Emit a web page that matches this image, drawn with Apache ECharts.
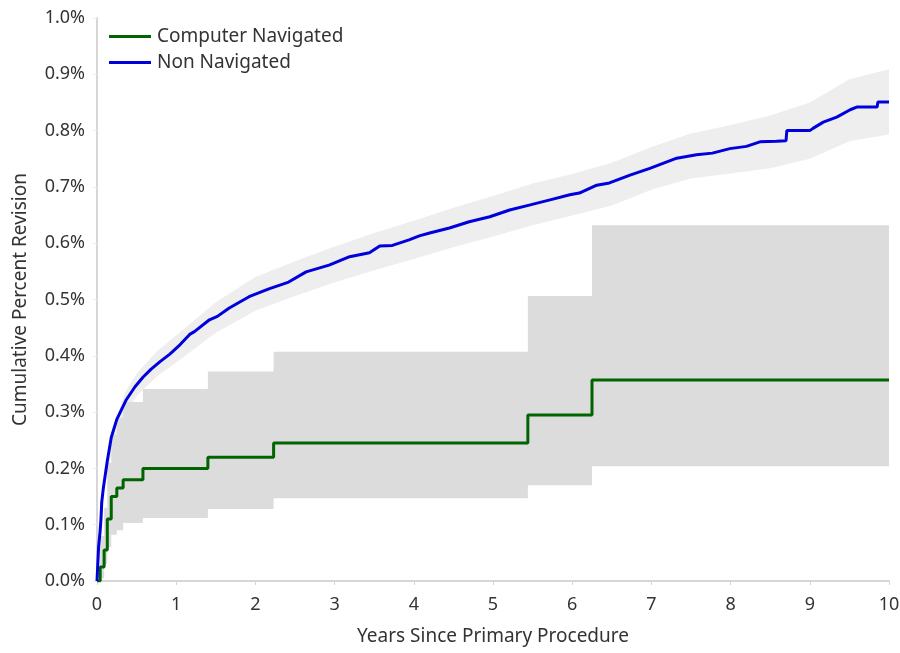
<!DOCTYPE html>
<html>
<head>
<meta charset="utf-8">
<script src="https://cdn.jsdelivr.net/npm/echarts@6/dist/echarts.min.js"></script>
<style>
  html, body { margin: 0; padding: 0; background: #fff; }
  #chart { width: 900px; height: 653px; }
</style>
</head>
<body>
<div id="chart"></div>
<script>
// Kaplan-Meier style cumulative revision curves (percent) by years since primary procedure

// Computer Navigated: step estimate and its confidence limits (each value holds from its time on)
const navTimes  = [0, 0.04, 0.09, 0.13, 0.18, 0.25, 0.33, 0.58, 1.40, 2.23, 5.44, 6.25];
const navValues = [0, 0.025, 0.055, 0.11, 0.15, 0.165, 0.18, 0.20, 0.22, 0.245, 0.295, 0.357];
const navUpper  = [0, 0.08, 0.13, 0.21, 0.26, 0.29, 0.318, 0.341, 0.372, 0.407, 0.506, 0.632];
const navLower  = [0, 0.005, 0.03, 0.06, 0.082, 0.09, 0.103, 0.112, 0.128, 0.147, 0.170, 0.204];
const followUpEnd = 10;

// Non Navigated estimate
const nonTimes = [0, 0.02, 0.04, 0.05, 0.06, 0.08, 0.13, 0.18, 0.25, 0.37, 0.48, 0.58, 0.68, 0.80, 0.92,
  1.05, 1.17, 1.23, 1.42, 1.52, 1.67, 1.92, 2.17, 2.42, 2.64, 2.93, 3.19, 3.44, 3.57, 3.73, 3.94, 4.07,
  4.20, 4.45, 4.70, 4.96, 5.21, 5.47, 5.72, 5.97, 6.09, 6.31, 6.47, 6.73, 6.98, 7.32, 7.57, 7.77, 7.99,
  8.20, 8.37, 8.58, 8.70, 8.71, 9.00, 9.04, 9.17, 9.34, 9.51, 9.60, 9.85, 9.86, 10.0];
const nonValues = [0, 0.06, 0.09, 0.11, 0.14, 0.165, 0.213, 0.255, 0.287, 0.322, 0.345, 0.362, 0.376, 0.39, 0.403,
  0.42, 0.438, 0.443, 0.464, 0.47, 0.485, 0.505, 0.519, 0.531, 0.549, 0.561, 0.576, 0.583, 0.595, 0.596, 0.606, 0.613,
  0.618, 0.627, 0.638, 0.647, 0.659, 0.668, 0.677, 0.686, 0.689, 0.703, 0.707, 0.721, 0.733, 0.751, 0.757, 0.76, 0.768,
  0.772, 0.78, 0.781, 0.782, 0.80, 0.80, 0.804, 0.815, 0.824, 0.837, 0.842, 0.842, 0.851, 0.851];

// Non Navigated confidence limits
const nonBandTimes = [0, 0.05, 0.1, 0.2, 0.35, 0.5, 0.75, 1.0, 1.5, 2.0, 2.5, 3.0, 3.5, 4.0, 4.5, 5.0,
  5.5, 6.0, 6.5, 7.0, 7.5, 8.0, 8.5, 9.0, 9.5, 10.0];
const nonUpper = [0, 0.122, 0.205, 0.267, 0.334, 0.368, 0.407, 0.436, 0.495, 0.54, 0.568, 0.594, 0.618, 0.64,
  0.663, 0.684, 0.706, 0.723, 0.743, 0.771, 0.795, 0.81, 0.827, 0.85, 0.891, 0.909];
const nonLower = [0, 0.098, 0.175, 0.233, 0.298, 0.328, 0.363, 0.388, 0.441, 0.48, 0.506, 0.53, 0.552, 0.572,
  0.593, 0.612, 0.632, 0.649, 0.667, 0.695, 0.715, 0.724, 0.733, 0.75, 0.781, 0.793];

const xTickLabels = ['0', '1', '2', '3', '4', '5', '6', '7', '8', '9', '10'];
const yTickLabels = ['0.0%', '0.1%', '0.2%', '0.3%', '0.4%', '0.5%', '0.6%', '0.7%', '0.8%', '0.9%', '1.0%'];

const seriesNames = ['Computer Navigated', 'Non Navigated'];

// step-line points for the navigated curve
const navLine = navTimes.map((t, i) => [t, navValues[i]]);
navLine.push([followUpEnd, navValues[navValues.length - 1]]);
const nonLine = nonTimes.map((t, i) => [t, nonValues[i]]);

// expand step bounds into polygon vertex lists
function stepEdge(times, vals, end) {
  const pts = [];
  for (let i = 0; i < times.length; i++) {
    const tNext = i + 1 < times.length ? times[i + 1] : end;
    pts.push([times[i], vals[i]], [tNext, vals[i]]);
  }
  return pts;
}
const navUpperEdge = stepEdge(navTimes, navUpper, followUpEnd);
const navLowerEdge = stepEdge(navTimes, navLower, followUpEnd);

const nonUpperEdge = nonBandTimes.map((t, i) => [t, nonUpper[i]]);
const nonLowerEdge = nonBandTimes.map((t, i) => [t, nonLower[i]]);

function bandSeries(upperEdge, lowerEdge, color, z) {
  return {
    type: 'custom',
    coordinateSystem: 'cartesian2d',
    silent: true,
    z: z,
    data: [[0, 0]],
    renderItem: function (params, api) {
      const pts = upperEdge.map(p => api.coord(p))
        .concat(lowerEdge.slice().reverse().map(p => api.coord(p)));
      return {
        type: 'polygon',
        shape: { points: pts },
        style: { fill: color, stroke: null }
      };
    }
  };
}

const font = '"Noto Sans", "Open Sans", sans-serif';
const axisGray = '#d6d6d6';

const chart = echarts.init(document.getElementById('chart'), null, { renderer: 'canvas' });
chart.setOption({
  animation: false,
  backgroundColor: '#ffffff',
  textStyle: { fontFamily: font },
  grid: { left: 97, right: 11, top: 18, bottom: 72, containLabel: false, outerBoundsMode: 'none' },
  legend: {
    data: seriesNames,
    orient: 'vertical',
    left: 104,
    top: 22,
    itemWidth: 42,
    itemHeight: 3,
    itemGap: 7,
    icon: 'rect',
    textStyle: { fontFamily: font, fontSize: 19, color: '#333333', padding: [0, 0, 0, 1] }
  },
  xAxis: {
    type: 'value',
    min: 0,
    max: 10,
    interval: 1,
    name: 'Years Since Primary Procedure',
    nameLocation: 'middle',
    nameGap: 46,
    nameTextStyle: { fontFamily: font, fontSize: 19, color: '#333333' },
    axisLine: { show: true, onZero: false, lineStyle: { color: axisGray, width: 2 } },
    axisTick: { show: true, length: 4, lineStyle: { color: axisGray } },
    axisLabel: {
      fontFamily: font, fontSize: 18, color: '#333333', margin: 15,
      formatter: v => xTickLabels[Math.round(v)]
    },
    splitLine: { show: false }
  },
  yAxis: {
    type: 'value',
    min: 0,
    max: 1.0,
    interval: 0.1,
    name: 'Cumulative Percent Revision',
    nameLocation: 'middle',
    nameGap: 67,
    nameTextStyle: { fontFamily: font, fontSize: 19, color: '#333333' },
    axisLine: { show: true, lineStyle: { color: axisGray, width: 2 } },
    axisTick: { show: true, length: 4, lineStyle: { color: '#eeeeee' } },
    axisLabel: {
      fontFamily: font, fontSize: 18, color: '#333333', margin: 12,
      formatter: v => yTickLabels[Math.round(v * 10)]
    },
    splitLine: { show: false }
  },
  series: [
    bandSeries(nonUpperEdge, nonLowerEdge, '#eeeeee', 1),
    bandSeries(navUpperEdge, navLowerEdge, '#dcdcdc', 2),
    {
      name: seriesNames[0],
      type: 'line',
      step: 'end',
      data: navLine,
      showSymbol: false,
      symbol: 'none',
      z: 4,
      color: '#006400',
      lineStyle: { color: '#006400', width: 3 }
    },
    {
      name: seriesNames[1],
      type: 'line',
      data: nonLine,
      showSymbol: false,
      symbol: 'none',
      z: 5,
      color: '#0000dc',
      lineStyle: { color: '#0000dc', width: 3 }
    }
  ]
});
</script>
</body>
</html>
